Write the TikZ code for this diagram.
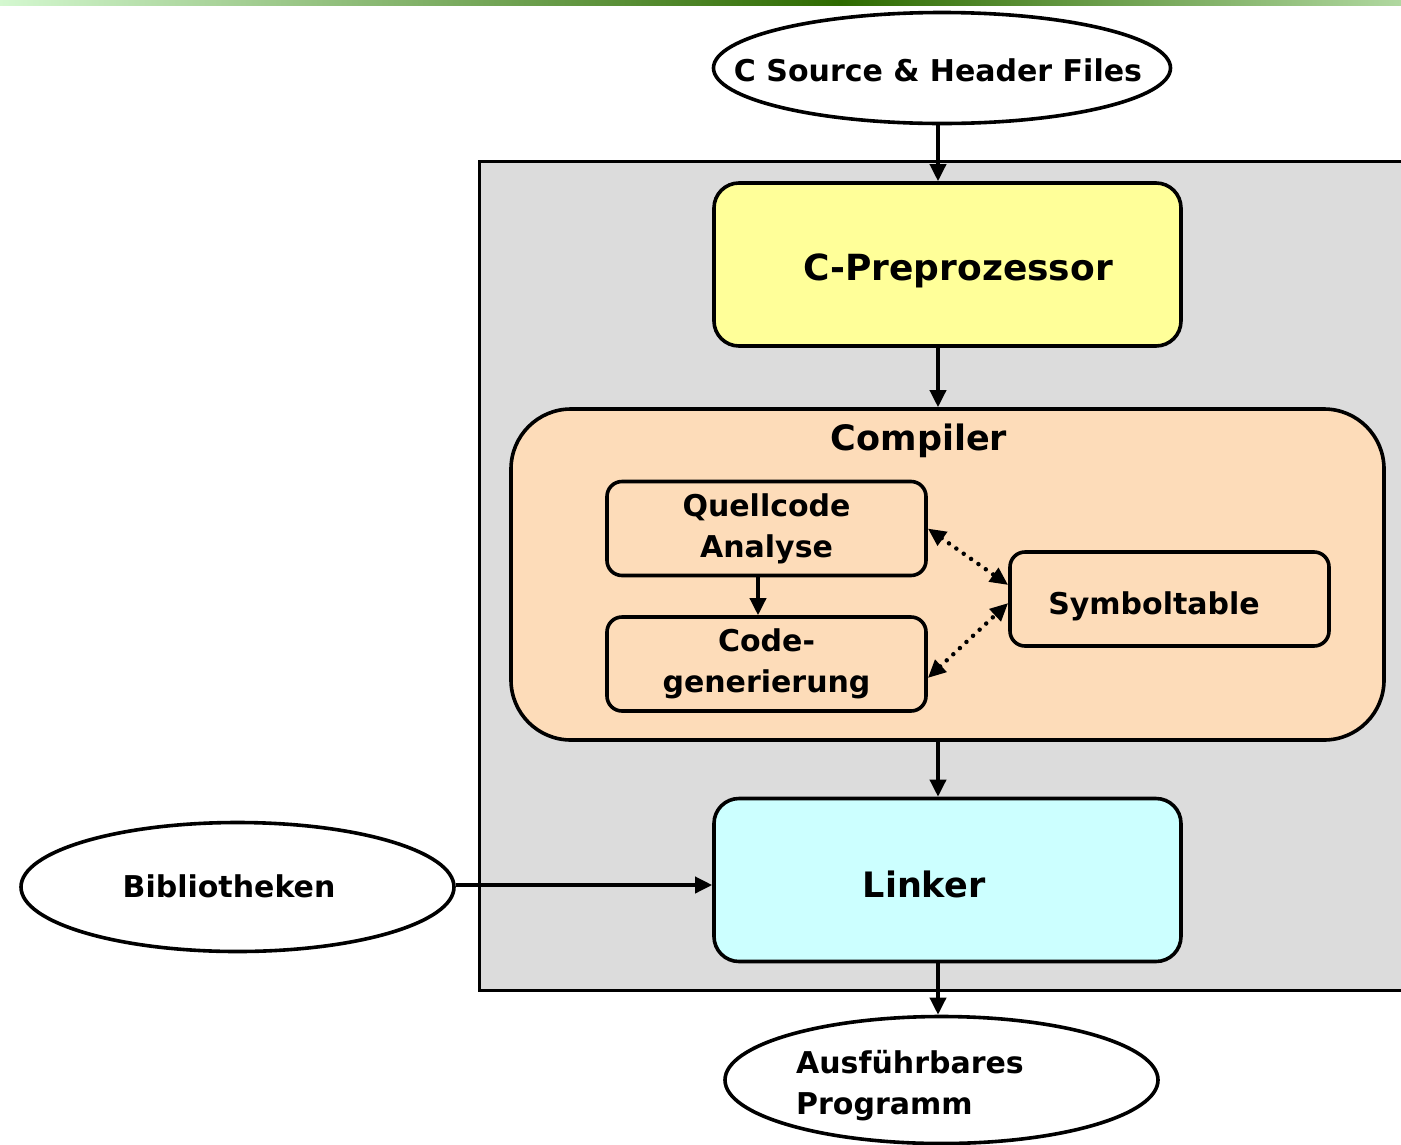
\documentclass[tikz,border=0pt]{standalone}
\usepackage{fontspec}
\setmainfont{DejaVu Sans}
\usetikzlibrary{shapes.geometric,arrows.meta}
\definecolor{barlight}{HTML}{D4F8D0}
\definecolor{bardark}{HTML}{2E6A00}
\definecolor{barright}{HTML}{B0D8A0}
\definecolor{framegray}{HTML}{DCDCDC}
\definecolor{preyellow}{HTML}{FFFF99}
\definecolor{comppeach}{HTML}{FDDCB9}
\definecolor{linkcyan}{HTML}{CCFFFF}
\begin{document}
\begin{tikzpicture}[x=1pt,y=-1pt,
  line width=3.6pt,
  smalltxt/.style={font=\fontsize{30}{41}\selectfont\bfseries},
  bigtxt/.style={font=\fontsize{35}{41}\selectfont\bfseries},
  oval/.style={ellipse, draw, fill=white, inner sep=0pt, smalltxt},
  stage/.style={draw, rectangle, rounded corners=25pt, inner sep=0pt},
  substage/.style={draw, rectangle, rounded corners=15pt, inner sep=0pt, fill=comppeach, smalltxt, align=center,
    minimum width=319pt, minimum height=94pt},
  arr/.style={-{Triangle[length=17pt,width=16pt]}},
  dotarr/.style={{Triangle[length=18pt,width=16pt]}-{Triangle[length=18pt,width=16pt]},
    line width=4.5pt, dash pattern=on 0pt off 9pt, line cap=round},
]
\useasboundingbox (0,0) rectangle (1401,1144);
\fill[white] (0,0) rectangle (1401,1144);

% title bar gradient
\shade[left color=barlight, right color=bardark] (0,0) rectangle (840,5);
\shade[left color=bardark, right color=barright] (840,0) rectangle (1401,5);

% source files
\node[oval, minimum width=457pt, minimum height=111pt] (src) at (942,68) {};
\node[smalltxt] (srcT) at (938,70) {C Source \& Header Files};

% gray frame around the tool chain
\node[draw, fill=framegray, rectangle, inner sep=0pt, anchor=north west,
  minimum width=960pt, minimum height=829pt] (frame) at (477.5,159.5) {};

% preprocessor
\node[stage, fill=preyellow, minimum width=467pt, minimum height=163pt] (pre) at (947.5,264.5) {};
\node[bigtxt, font=\fontsize{36}{41}\selectfont\bfseries] (preT) at (958,271) {C-Preprozessor};

% compiler
\node[draw, rectangle, rounded corners=60pt, fill=comppeach, inner sep=0pt,
  minimum width=873pt, minimum height=331pt] (comp) at (947.5,574.5) {};
\node[bigtxt] (compT) at (919,441) {Compiler};
\node[substage] (qa) at (766.5,528.5) {Quellcode\\Analyse};
\node[substage] (cg) at (766.5,664) {Code-\\generierung};
\node[substage] (sym) at (1169.5,599) {};
\node[smalltxt] (symT) at (1154,606) {Symboltable};

% linker
\node[stage, fill=linkcyan, minimum width=467pt, minimum height=163pt] (link) at (947.5,880) {};
\node[bigtxt] (linkT) at (924,884) {Linker};

% libraries and result
\node[oval, minimum width=433pt, minimum height=129pt] (bib) at (237.5,887) {};
\node[smalltxt] (bibT) at (229,886) {Bibliotheken};
\node[oval, minimum width=433pt, minimum height=127pt] (aus) at (941.5,1080) {};
\node[smalltxt, align=left, anchor=west] (ausT) at (791,1086) {Ausführbares\\Programm};

% connectors
\coordinate (ax) at (938,0);
\coordinate (qx) at (758,0);
\draw[arr] (src.south -| ax) -- (pre.north -| ax);
\draw[arr] (pre.south -| ax) -- (comp.north -| ax);
\draw[arr] (comp.south -| ax) -- (link.north -| ax);
\draw[arr] (link.south -| ax) -- (aus.north -| ax);
\draw[arr] ([yshift=2pt]bib.east) -- ([yshift=2pt]bib.east -| link.west);
\draw[arr] (qa.south -| qx) -- (cg.north -| qx);
\draw[dotarr] (qa.east) -- ([yshift=14pt]sym.west);
\draw[dotarr] ([yshift=-14pt]cg.east) -- ([yshift=-4pt]sym.west);
\end{tikzpicture}
\end{document}
